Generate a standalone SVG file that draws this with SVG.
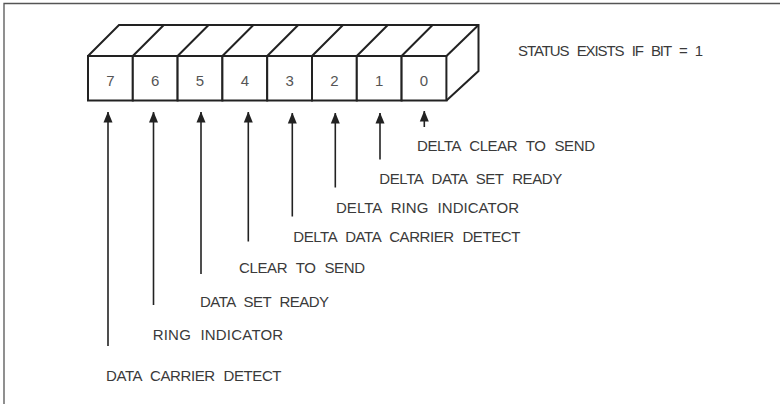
<svg xmlns="http://www.w3.org/2000/svg" width="780" height="404" viewBox="0 0 780 404">
  <style>
    .frame { stroke: #555; stroke-width: 1.3; fill: none; }
    .box { stroke: #222; stroke-width: 2; fill: #fff; stroke-linejoin: miter; }
    .edge { stroke: #222; stroke-width: 2; fill: none; }
    .digit { font-family: "Liberation Sans", Arial, sans-serif; font-size: 15px; fill: #555; text-anchor: middle; }
    .label { font-family: "Liberation Sans", Arial, sans-serif; font-size: 15px; fill: #3a3a3a; word-spacing: 5px; }
    .arrow { stroke: #222; stroke-width: 1.6; fill: none; marker-start: url(#head); }
  </style>
  <defs>
    <!-- upward-pointing filled arrowhead, tip at the line start -->
    <marker id="head" viewBox="0 0 10 12" refX="5" refY="0.5" markerWidth="10" markerHeight="12" markerUnits="userSpaceOnUse" orient="0">
      <path d="M5 0 L9.5 11 L0.5 11 Z" fill="#222"/>
    </marker>
  </defs>

  <rect width="780" height="404" fill="#fff"/>

  <!-- page frame: top and left rule -->
  <path class="frame" d="M4 404 V3.5 H780"/>

  <!-- register drawn as a row of 3-D cells -->
  <g id="register">
    <!-- top face and right face -->
    <path class="edge" d="M88 56 L119 25 H478.5 V71 L446.5 100.5"/>
    <path class="edge" d="M446.5 56 L478.5 25"/>
    <path class="edge" d="M132.8 56 L163.8 25 M177.6 56 L208.6 25 M222.4 56 L253.4 25 M267.2 56 L298.2 25 M312 56 L343 25 M356.8 56 L387.8 25 M401.6 56 L432.6 25"/>
  </g>
  <g id="bit7"><rect class="box" x="88" y="56" width="44.8" height="44.5"/><text class="digit" x="110.4" y="86">7</text></g>
  <g id="bit6"><rect class="box" x="132.8" y="56" width="44.8" height="44.5"/><text class="digit" x="155.2" y="86">6</text></g>
  <g id="bit5"><rect class="box" x="177.6" y="56" width="44.8" height="44.5"/><text class="digit" x="200" y="86">5</text></g>
  <g id="bit4"><rect class="box" x="222.4" y="56" width="44.8" height="44.5" stroke-width="2.4"/><text class="digit" x="244.8" y="86">4</text></g>
  <g id="bit3"><rect class="box" x="267.2" y="56" width="44.8" height="44.5"/><text class="digit" x="289.6" y="86">3</text></g>
  <g id="bit2"><rect class="box" x="312" y="56" width="44.8" height="44.5"/><text class="digit" x="334.4" y="86">2</text></g>
  <g id="bit1"><rect class="box" x="356.8" y="56" width="44.8" height="44.5"/><text class="digit" x="379.2" y="86">1</text></g>
  <g id="bit0"><rect class="box" x="401.6" y="56" width="44.8" height="44.5"/><text class="digit" x="424" y="86">0</text></g>

  <g id="note">
    <text class="label" x="518" y="56" textLength="185">STATUS EXISTS IF BIT = 1</text>
  </g>

  <!-- pointers from each status name up to its bit -->
  <g id="connectors">
    <line class="arrow" x1="108" y1="112" x2="108" y2="346"/>
    <line class="arrow" x1="153.5" y1="112" x2="153.5" y2="305"/>
    <line class="arrow" x1="201" y1="112" x2="201" y2="274"/>
    <line class="arrow" x1="248.3" y1="112" x2="248.3" y2="241.5"/>
    <line class="arrow" x1="292.3" y1="113" x2="292.3" y2="216.5"/>
    <line class="arrow" x1="335.3" y1="113" x2="335.3" y2="187.5"/>
    <line class="arrow" x1="380" y1="113" x2="380" y2="159.5"/>
    <line class="arrow" x1="424.3" y1="111" x2="424.3" y2="127"/>
  </g>

  <g id="labels">
    <text class="label" x="417" y="151" textLength="178">DELTA CLEAR TO SEND</text>
    <text class="label" x="379.3" y="184" textLength="183">DELTA DATA SET READY</text>
    <text class="label" x="336" y="213" textLength="183">DELTA RING INDICATOR</text>
    <text class="label" x="293.3" y="242" textLength="227">DELTA DATA CARRIER DETECT</text>
    <text class="label" x="239" y="272.5" textLength="126">CLEAR TO SEND</text>
    <text class="label" x="200" y="307" textLength="129">DATA SET READY</text>
    <text class="label" x="152.7" y="340" textLength="130.5">RING INDICATOR</text>
    <text class="label" x="106" y="381" textLength="175.5">DATA CARRIER DETECT</text>
  </g>
</svg>
